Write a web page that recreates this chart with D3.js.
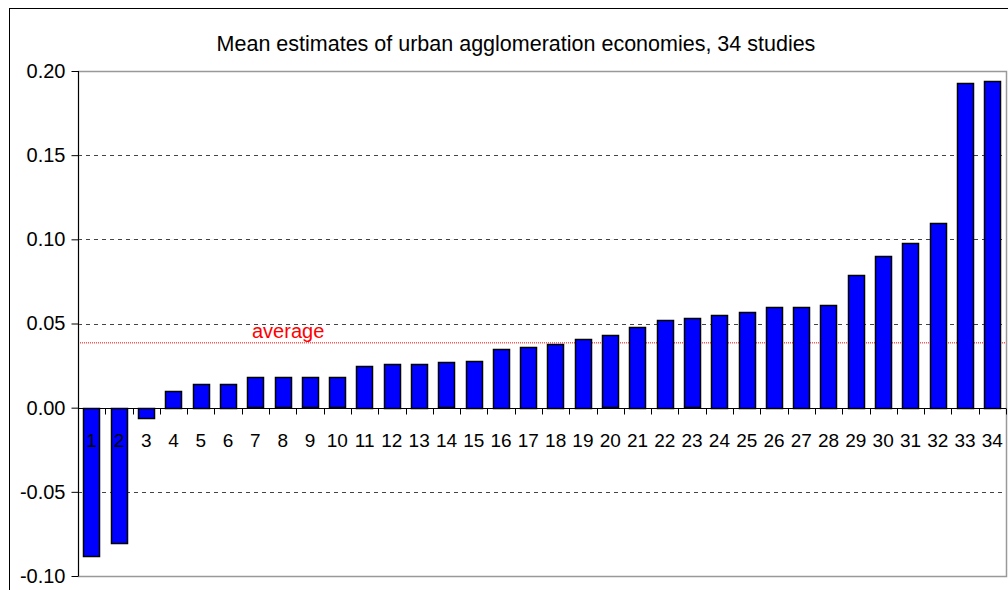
<!DOCTYPE html>
<html>
<head>
<meta charset="utf-8">
<script src="https://cdn.jsdelivr.net/npm/d3@7"></script>
<style>
    body { margin: 0; background: #fff; }
    svg { display: block; font-family: "Liberation Sans", Arial, sans-serif; }
</style>
</head>
<body>
<div class="container"></div>
<script>
const studies = d3.range(1, 35).map(String);
const estimates = [
    -0.088, -0.080, -0.006, 0.010, 0.014, 0.014, 0.018, 0.018, 0.018, 0.018,
    0.025, 0.026, 0.026, 0.027, 0.028, 0.035, 0.036, 0.038, 0.041, 0.043,
    0.048, 0.052, 0.053, 0.055, 0.057, 0.060, 0.060, 0.061, 0.079, 0.090,
    0.098, 0.110, 0.193, 0.194
];
const yTicks = [-0.10, -0.05, 0.00, 0.05, 0.10, 0.15, 0.20];
const averageValue = 0.0385;
const titleText = 'Mean estimates of urban agglomeration economies, 34 studies';

window.onload = () =>
{
    const width = 1008;
    const height = 590;
    const left = 78, right = 1006, top = 71, bottom = 576;

    const svg = d3.select('.container').append('svg').attr('width', width).attr('height', height);

    // outer chart frame (right/bottom edges fall off the picture)
    svg.append('rect').attr('x', 9.5).attr('y', 8.5).attr('width', 1010).attr('height', 600)
        .attr('fill', 'none').attr('stroke', '#000').attr('stroke-width', 1);

    const x = d3.scaleBand().domain(studies).range([left, right]).paddingInner(0.4).paddingOuter(0.2);
    const y = d3.scaleLinear().domain([-0.10, 0.20]).range([bottom, top]);

    // gridlines
    svg.append('g').selectAll('line').data(yTicks.filter(t => t !== 0 && t !== 0.20 && t !== -0.10)).enter().append('line')
        .attr('x1', left).attr('x2', right)
        .attr('y1', d => Math.round(y(d)) + 0.5).attr('y2', d => Math.round(y(d)) + 0.5)
        .attr('stroke', '#444').attr('stroke-dasharray', '4,4');

    // plot border
    svg.append('rect').attr('x', left + 0.5).attr('y', Math.round(top) + 0.5)
        .attr('width', right - left).attr('height', Math.round(bottom) - Math.round(top))
        .attr('fill', 'none').attr('stroke', '#999').attr('stroke-width', 1.5);

    // average line
    svg.append('line').attr('x1', left).attr('x2', right)
        .attr('y1', y(averageValue)).attr('y2', y(averageValue))
        .attr('stroke', '#ff0000').attr('stroke-width', 1).attr('stroke-dasharray', '1,1');
    svg.append('text').attr('x', 252).attr('y', y(averageValue) - 5)
        .attr('fill', '#ff0000').attr('font-size', 20).text('average');

    // bars
    svg.append('g').selectAll('rect').data(estimates).enter().append('rect')
        .attr('x', (d, i) => Math.round(x(studies[i])) + 0.5)
        .attr('width', Math.round(x.bandwidth()))
        .attr('y', d => Math.round(y(Math.max(0, d))) + 0.5)
        .attr('height', d => Math.round(Math.abs(y(d) - y(0))))
        .attr('fill', '#0000ff').attr('stroke', '#000').attr('stroke-width', 1.5);

    // y axis
    const yAxis = d3.axisLeft(y).tickValues(yTicks).tickFormat(d3.format('.2f')).tickSize(7).tickPadding(6);
    const ya = svg.append('g').attr('transform', `translate(${left + 0.5},0)`).call(yAxis);
    ya.select('.domain').attr('stroke', '#000').attr('d', `M0,${top}V${bottom}`);
    ya.selectAll('text').attr('font-size', 20).attr('fill', '#000').attr('font-family', '"Liberation Sans", Arial, sans-serif')
        .text(d => d3.format('.2f')(d).replace('−', '-'));

    // x axis along zero
    const xa = svg.append('g').attr('transform', `translate(0,${Math.round(y(0)) + 0.5})`);
    xa.append('line').attr('x1', left).attr('x2', right).attr('stroke', '#000');
    const bounds = d3.range(0, studies.length + 1).map(i => left + i * (right - left) / studies.length);
    xa.selectAll('line.tick').data(bounds).enter().append('line').attr('class', 'tick')
        .attr('x1', d => Math.round(d) + 0.5).attr('x2', d => Math.round(d) + 0.5)
        .attr('y1', 0).attr('y2', 6).attr('stroke', '#000');
    xa.selectAll('text').data(studies).enter().append('text')
        .attr('x', d => x(d) + x.bandwidth() / 2).attr('y', 38)
        .attr('text-anchor', 'middle').attr('font-size', 19).attr('fill', '#000').text(d => d);

    // title
    svg.append('text').attr('x', 516).attr('y', 51).attr('text-anchor', 'middle')
        .attr('font-size', 21.5).attr('fill', '#000').text(titleText);
}
</script>
</body>
</html>
